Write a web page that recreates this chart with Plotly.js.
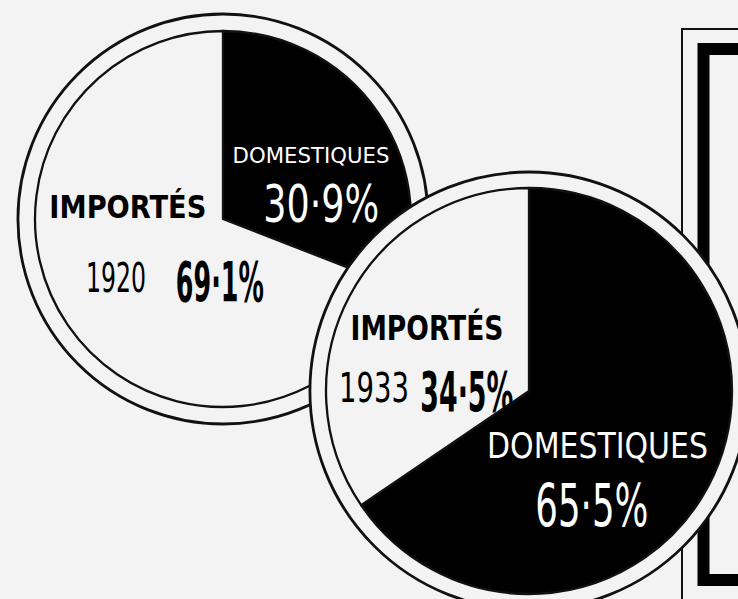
<!DOCTYPE html>
<html>
<head>
<meta charset="utf-8">
<script src="https://cdn.plot.ly/plotly-3.0.1.min.js"></script>
<style>
  html, body { margin: 0; padding: 0; overflow: hidden; background: #f3f3f3; }
  #chart { width: 760px; height: 620px; }
  .annotation-text { font-stretch: condensed; }
</style>
</head>
<body>
<div id="chart"></div>
<script>
// ---- data ----
const categories = ['DOMESTIQUES', 'IMPORTÉS'];
const years = ['1920', '1933'];
const domestic = [30.9, 65.5];
const imported = [69.1, 34.5];

// ---- helpers ----
const W = 760, H = 620;
const BG = '#f3f3f3';
const FONT = 'DejaVu Sans, sans-serif';
function dom(cx, cy, r) {
  return { x: [(cx - r) / W, (cx + r) / W], y: [1 - (cy + r) / H, 1 - (cy - r) / H] };
}
function pct(v) { return v.toFixed(1).replace('.', '·') + '%'; }
function px(x) { return x / W; }
function py(y) { return 1 - y / H; }

const pies = [
  { cx: 223, cy: 219, r: 188, ring: 205 },
  { cx: 529, cy: 391, r: 203, ring: 219 }
];

const traces = [];
pies.forEach((p, i) => {
  traces.push({
    type: 'pie', values: [1], labels: ['ring'], sort: false,
    domain: dom(p.cx, p.cy, p.ring),
    marker: { colors: [BG], line: { color: '#111', width: 2.8 } },
    textinfo: 'none', hoverinfo: 'skip', showlegend: false
  });
  traces.push({
    type: 'pie', values: [domestic[i], imported[i]], labels: categories,
    sort: false, direction: 'clockwise', rotation: 0,
    domain: dom(p.cx, p.cy, p.r),
    marker: { colors: ['#000000', BG], line: { color: '#111', width: 2.3 } },
    textinfo: 'none', hoverinfo: 'skip', showlegend: false
  });
});

// target rendered widths (px) used to condense each label horizontally
const textWidths = [];
function ann(text, x, y, size, color, bold, width) {
  textWidths.push(width);
  return {
    text: bold ? '<b>' + text + '</b>' : text,
    x: px(x), y: py(y), xref: 'paper', yref: 'paper',
    xanchor: 'center', yanchor: 'middle', showarrow: false,
    font: { family: FONT, size: size, color: color }
  };
}

const annotations = [
  ann(categories[0], 311, 155, 22, '#fff', false, 157),
  ann(pct(domestic[0]), 321, 204, 52, '#fff', false, 116),
  ann(categories[1], 128, 207, 32, '#000', true, 157),
  ann(years[0], 116, 278, 41, '#000', false, 60),
  ann(pct(imported[0]), 220, 282, 55, '#000', true, 88),

  ann(categories[1], 427, 328, 34, '#000', true, 153),
  ann(years[1], 374, 388, 41, '#000', false, 70),
  ann(pct(imported[1]), 467, 392, 55, '#000', true, 93),
  ann(categories[0], 597, 445, 36, '#fff', false, 221),
  ann(pct(domestic[1]), 592, 506, 58, '#fff', false, 113)
];

const shapes = [
  { type: 'rect', xref: 'paper', yref: 'paper', layer: 'below',
    x0: px(682), x1: px(900), y0: py(29), y1: py(800),
    line: { color: '#111', width: 2 }, fillcolor: 'rgba(0,0,0,0)' },
  { type: 'rect', xref: 'paper', yref: 'paper', layer: 'below',
    x0: px(703.5), x1: px(900), y0: py(49), y1: py(580),
    line: { color: '#000', width: 12 }, fillcolor: 'rgba(0,0,0,0)' }
];

const layout = {
  width: W, height: H,
  margin: { l: 0, r: 0, t: 0, b: 0 },
  paper_bgcolor: BG, plot_bgcolor: BG,
  showlegend: false, hovermode: false,
  annotations: annotations, shapes: shapes
};

Plotly.newPlot('chart', traces, layout, { displayModeBar: false, staticPlot: true }).then(function () {
  textWidths.forEach(function (w, i) {
    const t = document.querySelector('g.annotation[data-index="' + i + '"] text.annotation-text');
    if (!t) return;
    const bb = t.getBBox();
    if (!bb.width) return;
    const sx = w / bb.width;
    const cx = bb.x + bb.width / 2;
    const prev = t.getAttribute('transform') || '';
    t.setAttribute('transform', prev + ' translate(' + cx + ',0) scale(' + sx + ',1) translate(' + (-cx) + ',0)');
  });
});
</script>
</body>
</html>
